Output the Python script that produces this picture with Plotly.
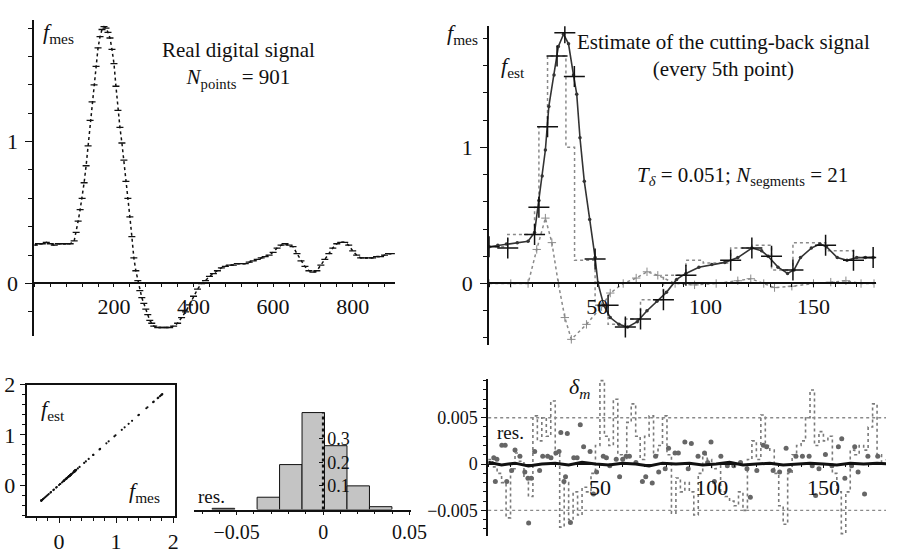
import plotly.graph_objects as go

W, H = 902, 554
def PX(x): return x / W
def PY(y): return 1 - y / H

FONT = "Liberation Serif"
BLACK = "#111111"
GREY = "#8a8a8a"

# ---------------- data ----------------
# top-left: real digital signal (sample index, f_mes)
sig_idx = list(range(0, 100, 10)) + list(range(100, 300, 5)) + list(range(300, 901, 10))
sig_val = [0.27, 0.28, 0.28, 0.29, 0.28, 0.27, 0.28, 0.28, 0.28, 0.28,
           0.30, 0.36, 0.44, 0.52, 0.60, 0.71, 0.83, 0.97, 1.15, 1.28,
           1.40, 1.53, 1.66, 1.74, 1.79, 1.81, 1.80, 1.77, 1.73, 1.65,
           1.55, 1.39, 1.22, 1.10, 0.99, 0.87, 0.72, 0.60, 0.47, 0.33,
           0.18, 0.09, 0.02, -0.05, -0.10, -0.14, -0.18, -0.22, -0.26, -0.28,
           -0.30, -0.31, -0.31, -0.31, -0.31, -0.30, -0.28, -0.24, -0.20, -0.15,
           -0.09, -0.04, 0.00, 0.02, 0.05, 0.07, 0.09, 0.11, 0.12, 0.13,
           0.13, 0.14, 0.14, 0.14, 0.15, 0.16, 0.17, 0.18, 0.19, 0.20,
           0.22, 0.25, 0.27, 0.28, 0.27, 0.26, 0.21, 0.16, 0.12, 0.09,
           0.08, 0.09, 0.13, 0.17, 0.21, 0.25, 0.28, 0.29, 0.29, 0.27,
           0.23, 0.20, 0.18, 0.18, 0.18, 0.18, 0.19, 0.19, 0.20, 0.21, 0.21]

# top-right: every 5th point
tr_x = [0, 4, 8, 13, 18, 21, 23, 24.5, 26, 27.6, 30, 32, 34.4, 36.7, 39, 40.5, 42, 44, 46.5, 49,
        50.3, 53, 56, 60, 64, 68.5, 73, 77.6, 82, 86.7, 91, 97, 103, 109, 115, 121.5, 126, 129,
        133.6, 138, 141, 144, 149, 153, 156, 161, 165.5, 170, 174, 177.6]
tr_y = [0.27, 0.28, 0.29, 0.30, 0.31, 0.375, 0.61, 0.79, 0.98, 1.30, 1.53, 1.74, 1.83, 1.76, 1.53,
        1.39, 1.07, 0.75, 0.47, 0.19, 0.005, -0.16, -0.25, -0.30, -0.32, -0.28, -0.20, -0.13,
        -0.065, 0.03, 0.074, 0.12, 0.14, 0.155, 0.19, 0.26, 0.24, 0.20, 0.12, 0.074, 0.10, 0.19,
        0.26, 0.29, 0.27, 0.19, 0.17, 0.19, 0.19, 0.19]

seg_x = [0, 8.6, 21, 23, 27, 31.4, 35, 39.4, 49, 55, 63, 70, 80.6, 91, 111.7, 121.5, 130.6,
         140.5, 155.6, 168.5, 177.6]
seg_y = [0.27, 0.26, 0.36, 0.56, 1.15, 1.67, 1.84, 1.52, 0.18, -0.16, -0.32, -0.26, -0.12,
         0.06, 0.17, 0.26, 0.20, 0.10, 0.28, 0.17, 0.19]

step_x = [0, 8.6, 21, 23, 27, 35.5, 39.5, 49, 55, 63, 70, 80.6, 91, 99, 111.7, 121.5, 130.6,
          140.5, 155.6, 168.5, 177.6]
step_y = [0.27, 0.36, 0.56, 1.15, 1.67, 1.0, 0.17, -0.16, -0.30, -0.26, -0.12, 0.06, 0.17,
          0.15, 0.26, 0.28, 0.10, 0.30, 0.24, 0.19, 0.19]

der_x = [0, 10, 18, 22, 26, 29, 32, 35, 38, 45, 52, 56, 62, 68, 73, 78, 86, 95, 105, 115,
         121, 127, 132, 140, 150, 158, 165, 172, 178]
der_y = [0.0, 0.0, 0.0, 0.25, 0.48, 0.30, 0.0, -0.25, -0.41, -0.30, -0.17, -0.07, 0.0, 0.04,
         0.086, 0.06, 0.0, -0.01, 0.0, 0.02, 0.035, 0.0, -0.03, -0.02, 0.0, 0.01, 0.02, 0.0, 0.0]

# bottom-middle: histogram of residuals
hist_center = [-0.0577, -0.0317, -0.0187, -0.0057, 0.0073, 0.0203, 0.0333]
hist_width = [0.0130, 0.0130, 0.0130, 0.0130, 0.0130, 0.0130, 0.0130]
hist_freq = [0.005, 0.052, 0.19, 0.41, 0.27, 0.10, 0.012]

# bottom-right: delta_m (units of 1e-3)
dm_x = list(range(0, 179, 2))
dm_y = [0.5, -0.3, -1.0, -2.0, -5.8, -0.5, 1.2, 0.3, -1.5, -3.5,
        5.2, 2.5, 5.0, 3.0, 6.8, 1.0, -6.8, -2.0, -6.0, -3.0,
        -5.5, -2.5, -3.0, -1.0, 2.0, 9.0, 3.0, 2.0, 7.0, 1.0,
        0.5, 4.5, 6.5, 3.0, 0.5, 3.0, 5.2, 1.0, 2.0, 5.2,
        1.0, -5.3, -1.5, -3.0, -2.0, -3.0, -5.5, -1.0, 1.0, 0.5,
        -0.5, 0.0, -3.0, -3.5, -4.0, -4.5, -3.0, -5.0, 0.5, 2.5,
        0.5, 5.3, 2.0, 1.5, -1.0, -4.5, -6.5, -1.0, 1.0, 2.0,
        2.5, 5.0, 8.0, 2.0, 3.5, 2.5, 3.0, -1.0, -3.0, -7.5,
        -3.0, 1.5, 1.0, 2.0, 1.5, 4.0, 6.5, 1.0, 0.0, 0.5]

res_x = [2.5, 3.9, 3.2, 6.1, 7.6, 8.3, 10.5, 12.0, 14.2, 16.4, 17.8, 18.1, 19.3, 20.8, 23.0,
         24.4, 26.6, 28.1, 30.3, 31.7, 32.5, 33.9, 34.6, 35.4, 36.8, 38.3, 39.8, 41.2, 42.7,
         45.6, 47.1, 48.5, 51.5, 52.9, 54.4, 57.3, 58.8, 60.2, 61.7, 63.2, 66.1, 69.0, 70.5,
         73.4, 74.9, 76.3, 79.2, 80.7, 83.6, 85.1, 88.0, 89.5, 90.9, 93.9, 96.8, 98.2, 99.7,
         101.2, 104.1, 107.0, 109.9, 112.9, 115.8, 117.3, 120.2, 123.1, 124.6, 127.5, 130.4,
         133.3, 134.8, 137.7, 140.6, 143.6, 145.0, 146.5, 148.0, 150.9, 153.8, 156.7, 158.2,
         159.6, 162.6, 164.0, 165.5, 168.4, 169.9, 174.3]
res_y = [0.68, 0.51, -1.87, 2.04, 2.04, -1.87, -0.68, 1.53, 0.85, -0.85, -1.53, -6.36, -1.53,
         1.36, -0.68, 0.85, 0.85, 0.68, 1.19, 1.36, 3.40, -1.87, -1.36, 3.30, -6.29, 0.68, 0.68,
         4.25, 1.87, 1.36, -3.23, -0.85, 0.85, 0.68, -0.17, 0.51, -1.36, 0.51, 0.85, 0.85, 0.17,
         -1.87, -1.36, -2.04, 0.85, -0.85, -0.51, 1.70, 1.19, 1.19, 2.38, -0.51, 2.21, 0.85,
         1.19, 0.17, 2.38, -1.87, 0.85, -0.17, -0.17, 0.17, -0.51, -3.57, -0.68, 2.04, 1.87,
         -0.68, -0.85, 1.70, -0.68, 0.85, 0.85, 0.85, -0.17, -3.40, -0.51, 1.02, -0.17, 1.87,
         2.72, -1.53, -0.17, 1.87, -0.85, -3.23, 0.85, 0.85]

bl_x = list(range(0, 181, 6))
bl_y = [0.2, -0.1, 0.1, -0.2, 0.0, 0.1, -0.1, 0.2, 0.0, -0.1, 0.1, 0.0, -0.2, 0.1, 0.0, 0.1,
        -0.1, 0.0, 0.2, -0.1, 0.0, 0.1, -0.1, 0.0, 0.1, 0.0, -0.1, 0.1, 0.0, 0.1, 0.0]

# ---------------- figure ----------------
fig = go.Figure()

# top-left
fig.add_trace(go.Scatter(x=sig_idx, y=sig_val, mode="lines+markers", xaxis="x", yaxis="y",
                         line=dict(color=BLACK, width=1.5, dash="dot"),
                         marker=dict(symbol="line-ew", size=5, line=dict(width=1.3, color=BLACK))))

# top-right
fig.add_trace(go.Scatter(x=step_x, y=step_y, mode="lines", xaxis="x2", yaxis="y2",
                         line=dict(shape="hv", dash="dot", color=GREY, width=1.5)))
fig.add_trace(go.Scatter(x=der_x, y=der_y, mode="lines+markers", xaxis="x2", yaxis="y2",
                         line=dict(dash="dot", color=GREY, width=1.5),
                         marker=dict(symbol="cross-thin", size=6, line=dict(width=1, color=GREY))))
fig.add_trace(go.Scatter(x=tr_x, y=tr_y, mode="lines+markers", xaxis="x2", yaxis="y2",
                         line=dict(color="#333333", width=1.6),
                         marker=dict(size=3.5, color="#333333")))
fig.add_trace(go.Scatter(x=seg_x, y=seg_y, mode="markers", xaxis="x2", yaxis="y2",
                         marker=dict(symbol="cross-thin", size=15, line=dict(width=1.5, color=BLACK))))

# bottom-left scatter
fig.add_trace(go.Scatter(x=sig_val, y=sig_val, mode="markers", xaxis="x3", yaxis="y3",
                         marker=dict(size=2.2, color=BLACK)))

# histogram
fig.add_trace(go.Bar(x=hist_center, y=hist_freq, width=hist_width, xaxis="x4", yaxis="y4",
                     marker=dict(color="#c4c4c4", line=dict(color=BLACK, width=1))))

# bottom-right
fig.add_trace(go.Scatter(x=dm_x, y=dm_y, mode="lines", xaxis="x5", yaxis="y5",
                         line=dict(shape="hv", dash="dot", color="#7a7a7a", width=1.6)))
fig.add_trace(go.Scatter(x=res_x, y=res_y, mode="markers", xaxis="x5", yaxis="y5",
                         marker=dict(size=5, color="#666666")))
fig.add_trace(go.Scatter(x=bl_x, y=bl_y, mode="lines", xaxis="x5", yaxis="y5",
                         line=dict(color=BLACK, width=3)))

TF = dict(family=FONT, size=22, color=BLACK)
TFS = dict(family=FONT, size=18, color=BLACK)

def ax(**kw):
    base = dict(showgrid=False, zeroline=False, showline=True, linecolor=BLACK,
                linewidth=1.5, ticks="outside", tickcolor=BLACK, ticklen=4, tickwidth=1,
                tickfont=TF, fixedrange=True)
    base.update(kw)
    return base

layout = dict(
    width=W, height=H, margin=dict(l=0, r=0, t=0, b=0),
    paper_bgcolor="white", plot_bgcolor="rgba(0,0,0,0)", showlegend=False,
    font=dict(family=FONT, color=BLACK),
    # top-left
    xaxis=ax(domain=[PX(35), PX(402)], range=[0, 906], anchor="free", position=PY(287),
             tickvals=[200, 400, 600, 800], ticklen=3,
             minor=dict(dtick=40, tick0=0, ticks="outside", ticklen=3, tickcolor=BLACK)),
    yaxis=ax(domain=[PY(343), PY(8)], range=[-0.373, 1.86], anchor="x", linewidth=2,
             tickvals=[0, 1], ticklen=7, ticklabelstandoff=3,
             minor=dict(dtick=0.2, tick0=0, ticks="outside", ticklen=4, tickcolor=BLACK)),
    # top-right
    xaxis2=ax(domain=[PX(498), PX(892)], range=[0, 179], anchor="free", position=PY(287),
              tickvals=[50, 100, 150], ticklen=3,
              minor=dict(dtick=10, tick0=0, ticks="outside", ticklen=3, tickcolor=BLACK)),
    yaxis2=ax(domain=[PY(352), PY(15)], range=[-0.451, 1.889], anchor="x2", linewidth=2,
              tickvals=[0, 1], ticklen=7, ticklabelstandoff=3,
              minor=dict(dtick=0.2, tick0=0, ticks="outside", ticklen=4, tickcolor=BLACK)),
    # bottom-left scatter
    xaxis3=ax(domain=[PX(27), PX(178)], range=[-0.57, 2.03], anchor="y3", mirror=True,
              tickvals=[0, 1, 2], ticklen=5,
              minor=dict(dtick=0.2, tick0=0, ticks="outside", ticklen=3, tickcolor=BLACK)),
    yaxis3=ax(domain=[PY(533), PY(394)], range=[-0.62, 2.0], anchor="x3", mirror=True,
              tickvals=[0, 1, 2], ticklen=5,
              minor=dict(dtick=0.2, tick0=0, ticks="outside", ticklen=3, tickcolor=BLACK)),
    # histogram
    xaxis4=ax(domain=[PX(197), PX(418)], range=[-0.075, 0.0506], anchor="y4",
              tickvals=[-0.05, 0, 0.05], ticklen=4, tickfont=dict(family=FONT, size=20, color=BLACK),
              minor=dict(dtick=0.01, tick0=0, ticks="outside", ticklen=3, tickcolor=BLACK)),
    yaxis4=ax(domain=[PY(526), PY(423)], range=[0, 0.412], anchor="free", position=PX(329),
              side="right", showline=False, tickvals=[0.1, 0.2, 0.3], ticks="inside",
              ticklen=4, ticklabelstandoff=3, tickfont=dict(family=FONT, size=18, color=BLACK)),
    # bottom-right
    xaxis5=ax(domain=[PX(497), PX(902)], range=[0, 178], anchor="free", position=PY(478),
              linewidth=1, tickvals=[50, 100, 150], ticklen=3,
              minor=dict(dtick=10, tick0=0, ticks="outside", ticklen=2, tickcolor=BLACK)),
    yaxis5=ax(domain=[0, PY(388)], range=[-7.76, 9.18], anchor="x5",
              tickvals=[-5, 0, 5], ticktext=["\u22120.005", "0", "0.005"], ticklen=5,
              tickfont=TFS,
              minor=dict(dtick=1, tick0=0, ticks="outside", ticklen=3, tickcolor=BLACK)),
    shapes=[
        dict(type="line", xref="x4", yref="y4 domain", x0=0, x1=0, y0=0, y1=1,
             line=dict(color=BLACK, width=2.5, dash="dot")),
        dict(type="line", xref="x5 domain", yref="y5", x0=0, x1=1, y0=5, y1=5,
             line=dict(color=GREY, width=1.3, dash="dot")),
        dict(type="line", xref="x5 domain", yref="y5", x0=0, x1=1, y0=-5, y1=-5,
             line=dict(color=GREY, width=1.3, dash="dot")),
    ],
)

def ann(text, x, y, size=22, xanchor="center"):
    return dict(text=text, x=PX(x), y=PY(y), xref="paper", yref="paper", showarrow=False,
                xanchor=xanchor, yanchor="middle", font=dict(family=FONT, size=size, color=BLACK))

layout["annotations"] = [
    ann("<i>f</i><sub>mes</sub>", 60, 22),
    ann("Real digital signal<br><i>N</i><sub>points</sub> = 901", 243, 56, 21),
    ann("<i>f</i><sub>mes</sub>", 471, 23),
    ann("<i>f</i><sub>est</sub>", 522, 58),
    ann("Estimate of the cutting-back signal<br>(every 5th point)", 737, 46, 21),
    ann("<i>T</i><sub><i>δ</i></sub> = 0.051; <i>N</i><sub>segments</sub> = 21", 756, 173, 21),
    ann("<i>f</i><sub>est</sub>", 54, 421),
    ann("<i>f</i><sub>mes</sub>", 147, 507),
    ann("res.", 215, 512, 19),
    ann("<i>δ</i><sub><i>m</i></sub>", 590, 397, 22),
    ann("res.", 520, 445, 19),
]

fig.update_layout(**layout)
fig.write_html("out.html", config={"displayModeBar": False})
